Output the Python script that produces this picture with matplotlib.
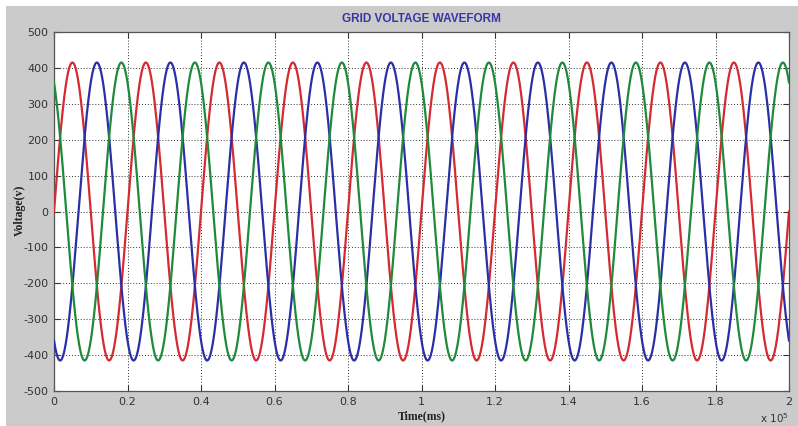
"""Three-phase grid voltage waveform, MATLAB-figure style."""

import matplotlib
matplotlib.use("Agg")
import matplotlib.pyplot as plt
import matplotlib.patches as mpatches
from matplotlib.ticker import FuncFormatter
import numpy as np

# Waveform parameters
t_end = 2e5             # ms
n_cycles = 10           # cycles over the window
v_peak = 415            # V
phase_deg = {"A": 0, "B": -120, "C": 120}
phase_colors = {"A": "#d42a32", "B": "#2b2fa6", "C": "#1f8a3a"}

y_ticks = [-500, -400, -300, -200, -100, 0, 100, 200, 300, 400, 500]
x_ticks = [0, 0.2e5, 0.4e5, 0.6e5, 0.8e5, 1e5, 1.2e5, 1.4e5, 1.6e5, 1.8e5, 2e5]

plt.rcParams["axes.unicode_minus"] = False

t = np.linspace(0, t_end, 4000)
omega = 2 * np.pi * n_cycles / t_end

fig = plt.figure(figsize=(7.98, 4.26), dpi=100, facecolor="white")
# grey figure panel
fig.patches.append(mpatches.Rectangle((6 / 798, 0), 1 - 6 / 798, 1 - 6 / 426,
                                      transform=fig.transFigure, facecolor="#cbcbcb",
                                      edgecolor="none", zorder=-10))

ax = fig.add_axes([54 / 798, 1 - 391 / 426, 735 / 798, 359 / 426])
ax.set_facecolor("white")

for name, deg in phase_deg.items():
    v = v_peak * np.sin(omega * t + np.deg2rad(deg))
    ax.plot(t, v, color=phase_colors[name], linewidth=1.6, zorder=3)

ax.set_xlim(0, t_end)
ax.set_ylim(-500, 500)
ax.set_xticks(x_ticks)
ax.set_yticks(y_ticks)
ax.xaxis.set_major_formatter(FuncFormatter(lambda x, _: f"{x / 1e5:g}"))
ax.tick_params(direction="in", length=4, width=0.8, top=True, right=True,
               labelsize=8, colors="#333333", pad=4)
ax.grid(True, linestyle=(0, (1, 2)), color="#333333", linewidth=0.7)
for side in ax.spines.values():
    side.set_color("#555555")
    side.set_linewidth(0.9)

ax.set_title("GRID VOLTAGE WAVEFORM", fontsize=8.5, fontweight="bold",
             color="#3636a8", family="Liberation Sans", pad=7)
ax.set_xlabel("Time(ms)", fontsize=8.5, fontweight="bold",
              family="Liberation Serif", color="#222222", labelpad=3)
fig.text(20 / 798, 1 - 210 / 426, "Voltage(v)", rotation=90, fontsize=8.5,
         fontweight="bold", family="Liberation Serif", color="#222222",
         ha="center", va="center")
fig.text(774 / 798, 1 - 418 / 426, "x 10$^5$", fontsize=7.5, color="#333333",
         ha="center", va="center")

fig.savefig("out.png", dpi=100, facecolor=fig.get_facecolor())
